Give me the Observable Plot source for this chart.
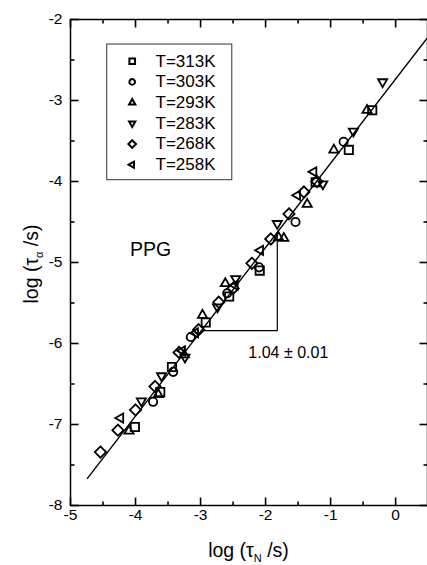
<!DOCTYPE html>
<html><head><meta charset="utf-8">
<script src="https://cdn.jsdelivr.net/npm/d3@7"></script>
<script src="https://cdn.jsdelivr.net/npm/@observablehq/plot@0.6"></script>
<style>html,body{margin:0;padding:0;background:#fff;overflow:hidden} svg{display:block}</style>
</head><body><div id="chart"></div>
<script>
// ---- data (log tau_N, log tau_alpha) ----
const seriesNames = ["T=313K","T=303K","T=293K","T=283K","T=268K","T=258K"];
const t313 = [[-4.01,-7.03],[-3.62,-6.60],[-3.44,-6.29],[-2.92,-5.74],[-2.56,-5.42],[-2.09,-5.10],[-1.23,-4.01],[-0.72,-3.61],[-0.36,-3.12]];
const t303 = [[-3.73,-6.72],[-3.42,-6.35],[-3.15,-5.92],[-2.59,-5.38],[-2.10,-5.06],[-1.54,-4.50],[-0.80,-3.51]];
const t293 = [[-4.10,-7.08],[-3.65,-6.63],[-3.25,-6.14],[-2.97,-5.65],[-2.62,-5.26],[-1.80,-4.69],[-1.72,-4.70],[-1.36,-4.28],[-0.95,-3.61],[-0.44,-3.12]];
const t283 = [[-3.91,-6.71],[-3.60,-6.40],[-3.24,-6.17],[-2.74,-5.55],[-2.46,-5.20],[-1.82,-4.52],[-1.12,-4.03],[-0.65,-3.38],[-0.20,-2.77]];
const t268 = [[-4.54,-7.34],[-4.27,-7.07],[-4.00,-6.82],[-3.70,-6.53],[-3.33,-6.11],[-3.03,-5.83],[-2.72,-5.49],[-2.50,-5.32],[-2.21,-5.01],[-1.92,-4.71],[-1.64,-4.40],[-1.41,-4.13],[-1.21,-4.00]];
const t258 = [[-4.23,-6.92],[-3.28,-6.09],[-3.08,-5.87],[-2.47,-5.28],[-2.08,-4.85],[-1.51,-4.17],[-1.26,-3.88]];
const seriesData = [t313, t303, t293, t283, t268, t258];

// fit: log tau_alpha = slope * log tau_N + intercept
const fitSlope = 1.04, fitIntercept = -2.735;
const fitRange = [-4.74, 0.49];
const triangleX = [-2.986, -1.82];
const slopeLabel = "1.04 \u00b1 0.01";

const xDomain = [-5, 0.49], yDomain = [-8, -2];
const xTicksMajor = [-5,-4,-3,-2,-1,0];
const xTicksMinor = [-4.5,-3.5,-2.5,-1.5,-0.5];
const yTicksMajor = [-8,-7,-6,-5,-4,-3,-2];
const yTicksMinor = [-7.5,-6.5,-5.5,-4.5,-3.5,-2.5];

const annotations = [
  {text: "PPG", x: -3.77, y: -4.914, size: 19.5},
  {text: slopeLabel, x: -1.65, y: -6.185, size: 16}
];
// legend layout (data units)
const legendBox = {x1: -4.435, x2: -2.512, y1: -2.309, y2: -3.984};
const legendSymX = -4.051, legendTextX = -3.692, legendTop = -2.515, legendStep = 0.2556;

// ---- chart geometry ----
const W = 427, H = 565, mL = 70, mR = 0, mT = 19, mB = 60;
const xUnitPerPx = (xDomain[1]-xDomain[0]) / (W - mL - mR);
const yUnitPerPx = (yDomain[1]-yDomain[0]) / (H - mT - mB);

// ---- symbols ----
function sym(fn){ return {draw(c, size){ const r = Math.sqrt(size/Math.PI); fn(c, r); }}; }
const symSquare = sym((c,r)=>{const s=r*0.88; c.moveTo(-s,-s); c.lineTo(s,-s); c.lineTo(s,s); c.lineTo(-s,s); c.closePath();});
const symCircle = sym((c,r)=>{const s=r*0.88; c.moveTo(s,0); c.arc(0,0,s,0,2*Math.PI); c.closePath();});
const symUp = sym((c,r)=>{const R=r*1.12; c.moveTo(0,-R); c.lineTo(R*0.866,R*0.5); c.lineTo(-R*0.866,R*0.5); c.closePath();});
const symDown = sym((c,r)=>{const R=r*1.12; c.moveTo(0,R); c.lineTo(R*0.866,-R*0.5); c.lineTo(-R*0.866,-R*0.5); c.closePath();});
const symDiamond = sym((c,r)=>{const d=r*1.2; c.moveTo(0,-d); c.lineTo(d,0); c.lineTo(0,d); c.lineTo(-d,0); c.closePath();});
const symLeft = sym((c,r)=>{const R=r*1.12; c.moveTo(-R,0); c.lineTo(R*0.5,-R*0.866); c.lineTo(R*0.5,R*0.866); c.closePath();});
const seriesSymbols = [symSquare, symCircle, symUp, symDown, symDiamond, symLeft];

const font = "'Liberation Sans', Arial, sans-serif";

const fitLine = fitRange.map(x => ({x, y: fitSlope*x + fitIntercept}));
const tri = [
  {x: triangleX[0], y: fitSlope*triangleX[0] + fitIntercept},
  {x: triangleX[1], y: fitSlope*triangleX[0] + fitIntercept},
  {x: triangleX[1], y: fitSlope*triangleX[1] + fitIntercept}
];
const legendRows = seriesNames.map((name, i) => ({name, i, x: legendSymX, tx: legendTextX, y: legendTop - i*legendStep}));

// inward tick segments on all four edges
function tickSegments(xs, ys, lenPx){
  const ly = lenPx * yUnitPerPx, lx = lenPx * xUnitPerPx;
  const segs = [];
  for (const x of xs) {
    segs.push({x1: x, x2: x, y1: yDomain[0], y2: yDomain[0] + ly});
    segs.push({x1: x, x2: x, y1: yDomain[1], y2: yDomain[1] - ly});
  }
  for (const y of ys) {
    segs.push({x1: xDomain[0], x2: xDomain[0] + lx, y1: y, y2: y});
    segs.push({x1: xDomain[1], x2: xDomain[1] - lx, y1: y, y2: y});
  }
  return segs;
}
const ticks = [...tickSegments(xTicksMajor, yTicksMajor, 8), ...tickSegments(xTicksMinor, yTicksMinor, 4)];

const marks = [
  Plot.line(fitLine, {x: "x", y: "y", stroke: "black", strokeWidth: 1.4, clip: true}),
  Plot.line(tri, {x: "x", y: "y", stroke: "black", strokeWidth: 1.2}),
  ...seriesData.map((d, i) => Plot.dot(d, {x: d=>d[0], y: d=>d[1], symbol: seriesSymbols[i], r: 4.7, stroke: "black", strokeWidth: 1.8, fill: "none"})),
  Plot.rect([legendBox], {x1: "x1", x2: "x2", y1: "y1", y2: "y2", fill: "white", stroke: "#333", strokeWidth: 1}),
  ...legendRows.map(row => Plot.dot([row], {x: "x", y: "y", symbol: seriesSymbols[row.i], r: 3.2, stroke: "black", strokeWidth: 2, fill: "none"})),
  Plot.text(legendRows, {x: "tx", y: "y", text: "name", textAnchor: "start", fontSize: 17, fill: "black"}),
  ...annotations.map(a => Plot.text([a], {x: "x", y: "y", text: "text", fontSize: a.size, lineAnchor: "bottom", fill: "black"})),
  Plot.link(ticks, {x1: "x1", y1: "y1", x2: "x2", y2: "y2", stroke: "black", strokeWidth: 1.6}),
  Plot.axisX({anchor: "bottom", ticks: xTicksMajor, tickSize: 0, tickPadding: 3, tickFormat: d => String(d), label: null, fontSize: 15.5}),
  Plot.axisY({anchor: "left", ticks: yTicksMajor, tickSize: 0, tickPadding: 8, tickFormat: d => String(d), label: null, fontSize: 15.5}),
  Plot.frame({stroke: "black", strokeWidth: 1.5})
];

const chart = Plot.plot({
  width: W, height: H,
  marginLeft: mL, marginRight: mR, marginTop: mT, marginBottom: mB,
  x: {domain: xDomain},
  y: {domain: yDomain},
  style: {fontFamily: font, fontSize: "15.5px", color: "black", background: "white"},
  marks
});
document.getElementById("chart").appendChild(chart);

// axis titles with subscripts
const svg = d3.select(chart);
const xt = svg.append("text").attr("x", 248.5).attr("y", 557).attr("text-anchor", "middle")
  .attr("font-family", font).attr("font-size", 19.5).attr("fill", "black");
xt.append("tspan").text("log (\u03c4");
xt.append("tspan").attr("font-size", 11).attr("dy", 5).text("N");
xt.append("tspan").attr("dy", -5).text(" /s)");
const yt = svg.append("text").attr("transform", "translate(38,264) rotate(-90)").attr("text-anchor", "middle")
  .attr("font-family", font).attr("font-size", 19.5).attr("fill", "black");
yt.append("tspan").text("log (\u03c4");
yt.append("tspan").attr("font-size", 11).attr("dy", 5).text("\u03b1");
yt.append("tspan").attr("dy", -5).text(" /s)");
</script></body></html>
